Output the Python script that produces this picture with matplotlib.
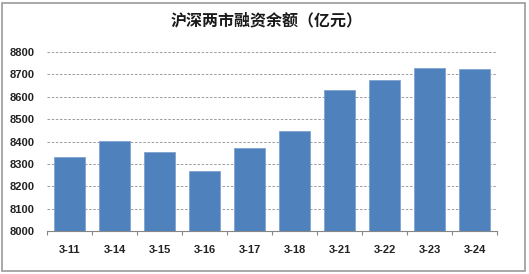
import matplotlib
matplotlib.use('Agg')
import matplotlib.pyplot as plt
from matplotlib.patches import Rectangle
import numpy as np

plt.rcParams['font.family'] = ['Noto Sans CJK SC', 'DejaVu Sans']

# data
dates = ['3-11', '3-14', '3-15', '3-16', '3-17', '3-18', '3-21', '3-22', '3-23', '3-24']
balance = [8332, 8403, 8352, 8267, 8371, 8449, 8628, 8677, 8730, 8726]
title = '沪深两市融资余额（亿元）'

fig = plt.figure(figsize=(5.29, 2.74), dpi=100)
ax = fig.add_axes([47/529, 1 - 231/274, 450/529, 179/274])

x = np.arange(len(dates))
ax.bar(x, balance, width=0.7, bottom=0, color='#4F81BD',
       edgecolor='#7FA3D3', linewidth=0.6, zorder=3)

ax.set_xlim(-0.5, len(dates) - 0.5)
ax.set_ylim(8000, 8800)
ax.set_yticks(range(8000, 8801, 100))
ax.yaxis.grid(True, linestyle=(0, (3, 2)), color='#8C8C8C', linewidth=0.6)
ax.set_axisbelow(True)

for s in ('top', 'right', 'left'):
    ax.spines[s].set_visible(False)
ax.spines['bottom'].set_color('#868686')
ax.spines['bottom'].set_linewidth(0.8)

# category labels centred, tick marks between categories
ax.set_xticks(x)
ax.set_xticklabels(dates, family=['Liberation Sans', 'DejaVu Sans'],
                   fontsize=8, fontweight='bold', color='#222222')
ax.tick_params(axis='x', length=0, pad=10)
ax.set_xticks(np.arange(-0.5, len(dates), 1), minor=True)
ax.tick_params(axis='x', which='minor', length=3, color='#868686', width=0.8)
ax.tick_params(axis='y', length=0, pad=9)
for t in ax.get_yticklabels():
    t.set_family(['Liberation Sans', 'DejaVu Sans'])
    t.set_fontsize(8)
    t.set_fontweight('bold')
    t.set_color('#222222')

fig.text(171/529, 1 - 20/274, title, ha='left', va='center',
         fontsize=11.5, fontweight='bold', color='#1a1a1a')

# chart frame
fig.patches.append(Rectangle((2/529, 3/274), 523/529, 268/274,
                             transform=fig.transFigure, fill=False,
                             edgecolor='#9A9A9A', linewidth=1.2))

fig.savefig('out.png', dpi=100)
